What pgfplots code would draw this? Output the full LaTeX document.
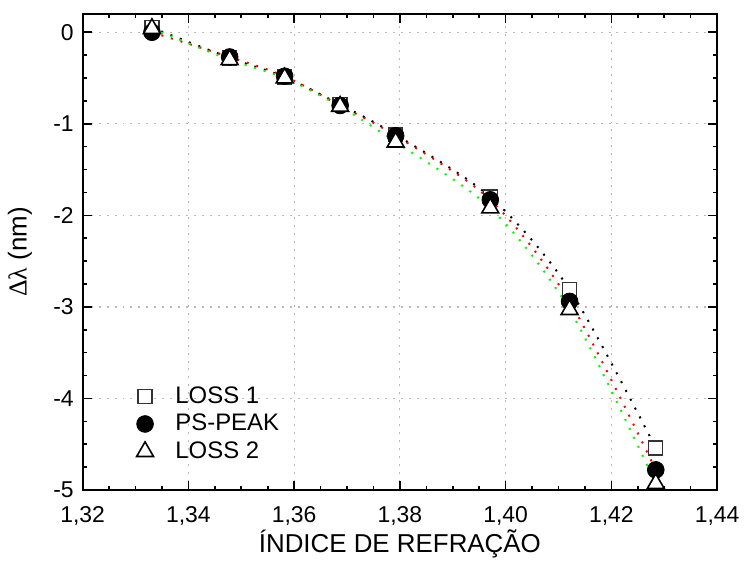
\documentclass[border=0pt]{standalone}
\usepackage{fontspec}
\setmainfont{Liberation Sans}
\newfontfamily\grk{Liberation Serif}
\usepackage{pgfplots}
\usepackage{pgfplotstable}
\pgfplotsset{compat=1.18}
\definecolor{fitred}{RGB}{255,0,0}
\definecolor{fitgreen}{RGB}{0,255,0}

% refractive index vs wavelength shift of the three features
\pgfplotstableread{
n      loss1  pspeak loss2
1.3331  0.05   0.00   0.04
1.3478 -0.28  -0.27  -0.30
1.3582 -0.49  -0.48  -0.50
1.3687 -0.79  -0.80  -0.81
1.3792 -1.12  -1.13  -1.20
1.3971 -1.80  -1.83  -1.92
1.4121 -2.81  -2.94  -3.03
1.4284 -4.54  -4.78  -4.93
}\shiftdata

\begin{document}
\begin{tikzpicture}
\begin{axis}[
  scale only axis,
  width=318.5pt, height=239pt,
  xmin=1.32, xmax=1.44, ymin=-5, ymax=0.2,
  xtick={1.32,1.34,1.36,1.38,1.40,1.42,1.44},
  ytick={-5,-4,-3,-2,-1,0},
  minor x tick num=3, minor y tick num=3,
  tick align=inside,
  major tick length=4.5pt, minor tick length=2.2pt,
  axis line style={line width=1pt},
  every tick/.style={black, line width=0.8pt},
  grid=major,
  major grid style={gray!55, line width=0.6pt, dash pattern=on 1pt off 3pt},
  /pgf/number format/assume math mode=true,
  xticklabel style={yshift=-5pt, /pgf/number format/fixed,
    /pgf/number format/fixed zerofill, /pgf/number format/precision=2,
    /pgf/number format/use comma},
  yticklabel style={xshift=-1pt},
  tick label style={font=\fontsize{11.5}{14}\selectfont},
  label style={font=\fontsize{13}{15}\selectfont},
  xlabel={ÍNDICE DE REFRAÇÃO},
  ylabel={{\grk Δλ} (nm)},
  xlabel style={at={(axis description cs:0.5,-0.113)}, anchor=center},
  ylabel style={at={(axis description cs:-0.099,0.5)}, anchor=center},
  legend style={draw=none, fill=none, at={(0.075,0.235)}, anchor=north west,
    font=\fontsize{12}{14}\selectfont, row sep=0pt, column sep=9pt},
  legend cell align=left,
  clip=false,
]
\addplot[only marks, mark=square*, mark size=3.5pt,
  mark options={fill=white, draw=black!80, line width=0.7pt}]
  table[x=n, y=loss1] {\shiftdata};
\addplot[only marks, mark=*, mark size=4.2pt, black]
  table[x=n, y=pspeak] {\shiftdata};
\addplot[only marks, mark=triangle*, mark size=4.9pt,
  mark options={fill=white, draw=black, line width=0.8pt}]
  table[x=n, y=loss2] {\shiftdata};
% dotted fit curves
\addplot[forget plot, smooth, black, line width=1pt, dash pattern=on 1pt off 4pt]
  table[x=n, y=loss1] {\shiftdata};
\addplot[forget plot, smooth, fitred, line width=1pt, dash pattern=on 1pt off 4pt]
  table[x=n, y=pspeak] {\shiftdata};
\addplot[forget plot, smooth, fitgreen, line width=1pt, dash pattern=on 1pt off 4pt]
  table[x=n, y=loss2] {\shiftdata};
\legend{LOSS 1, PS-PEAK, LOSS 2}
\end{axis}
\path ([xshift=-41.5pt,yshift=-37.5pt]current axis.south west)
  rectangle ([xshift=13pt,yshift=7pt]current axis.north east);
\end{tikzpicture}
\end{document}
